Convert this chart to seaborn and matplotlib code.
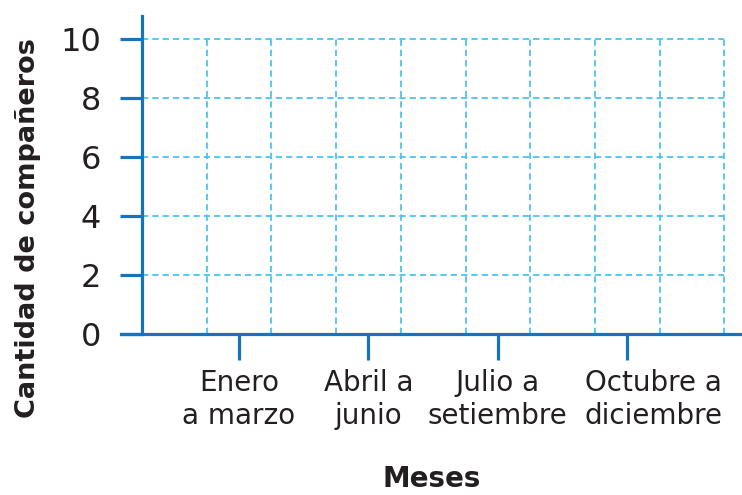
import matplotlib
matplotlib.use("Agg")
import matplotlib.pyplot as plt
import matplotlib.transforms as mtransforms
import seaborn as sns

# Data
categorias = ["Enero\na marzo", "Abril a\njunio", "Julio a\nsetiembre", "Octubre a\ndiciembre"]
pos_categorias = [1.5, 3.5, 5.5, 7.5]
y_ticks = [0, 2, 4, 6, 8, 10]
x_grid = [1, 2, 3, 4, 5, 6, 7, 8, 9]

sns.set_theme(style="white")
plt.rcParams['font.family'] = ['DejaVu Sans']

AXIS = "#1574bb"
GRID = "#4cc4f0"
TXT = "#231f20"

fig = plt.figure(figsize=(7.42, 4.95), dpi=100)
W, H = 742, 495
left_px, right_px = 121, 742
top_px, bot_px = 16, 334
ax = fig.add_axes([left_px / W, 1 - bot_px / H, (right_px - left_px) / W, (bot_px - top_px) / H])

unit_x = 64.7
unit_y = 29.5
ax.set_xlim(-(142 - left_px) / unit_x, (right_px - 142) / unit_x)
ax.set_ylim(0, (bot_px - top_px) / unit_y)

# grid
ax.vlines(x_grid, 0, 10, colors=GRID, linestyles=(0, (3.5, 2.2)), linewidth=1.3, zorder=1)
ax.hlines(y_ticks[1:], 0, 9, colors=GRID, linestyles=(0, (3.5, 2.2)), linewidth=1.3, zorder=1)

for s in ["top", "right"]:
    ax.spines[s].set_visible(False)
ax.spines["left"].set_position(("data", 0))
for s in ["left", "bottom"]:
    ax.spines[s].set_color(AXIS)
    ax.spines[s].set_linewidth(2.3)
    ax.spines[s].set_zorder(3)

ax.set_yticks(y_ticks)
ax.set_yticklabels([str(v) for v in y_ticks], fontsize=23, color=TXT)
ax.set_xticks(pos_categorias)
ax.set_xticklabels(categorias, fontsize=20, color=TXT, linespacing=1.25)

ax.tick_params(axis="y", direction="out", length=15.5, width=2.3, color=AXIS, pad=14, left=True)
ax.tick_params(axis="x", direction="out", length=19, width=2.3, color=AXIS, pad=6, bottom=True)

# last category label sits shifted right in the reference
lbl = ax.get_xticklabels()[-1]
lbl.set_transform(lbl.get_transform() + mtransforms.ScaledTranslation(26 / 100, 0, fig.dpi_scale_trans))

fig.text(28 / W, 1 - 228 / H, "Cantidad de compañeros", rotation=90, ha="center", va="center",
         fontsize=19.5, fontweight="bold", color=TXT)
fig.text(432 / W, 1 - 479 / H, "Meses", ha="center", va="center",
         fontsize=20, fontweight="bold", color=TXT)

fig.savefig("out.png", dpi=100)
